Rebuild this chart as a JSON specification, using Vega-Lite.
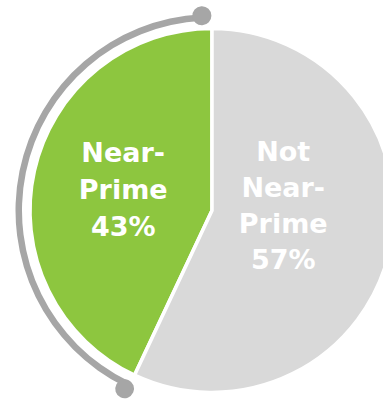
{
  "$schema": "https://vega.github.io/schema/vega-lite/v6.json",
  "autosize": {"type": "none"},
  "padding": {"left": 41, "top": 18, "right": 0, "bottom": 0},
  "width": 342,
  "height": 385,
  "background": "white",
  "config": {"view": {"stroke": null}},
  "datasets": {
    "shares": [
      {"category": "Near-Prime", "value": 43, "label": "Near-\nPrime\n43%"},
      {"category": "Not Near-Prime", "value": 57, "label": "Not\nNear-\nPrime\n57%"}
    ],
    "bracket": [
      {"category": "Near-Prime", "from": 57, "to": 100}
    ]
  },
  "layer": [
    {
      "data": {"name": "shares"},
      "mark": {"type": "arc", "outerRadius": 182, "stroke": "white", "strokeWidth": 3.5},
      "encoding": {
        "theta": {"field": "value", "type": "quantitative", "stack": true, "scale": {"domain": [0, 100]}},
        "order": {"field": "category", "sort": "descending"},
        "color": {"field": "category", "type": "nominal", "legend": null,
          "scale": {"domain": ["Near-Prime", "Not Near-Prime"], "range": ["#8DC63F", "#D9D9D9"]}}
      }
    },
    {
      "data": {"name": "bracket"},
      "mark": {"type": "arc", "innerRadius": 190, "outerRadius": 196.5, "color": "#A6A6A6", "thetaOffset": 0.016, "theta2Offset": -0.052},
      "encoding": {
        "theta": {"field": "from", "type": "quantitative", "scale": {"domain": [0, 100]}},
        "theta2": {"field": "to"}
      }
    },
    {
      "data": {"name": "bracket"},
      "mark": {"type": "arc", "innerRadius": 189, "outerRadius": 208, "cornerRadius": 9.5, "color": "#A6A6A6", "thetaOffset": -0.031, "theta2Offset": 0.063},
      "encoding": {
        "theta": {"field": "from", "type": "quantitative", "scale": {"domain": [0, 100]}},
        "theta2": {"field": "from"}
      }
    },
    {
      "data": {"name": "bracket"},
      "mark": {"type": "arc", "innerRadius": 185.5, "outerRadius": 204.5, "cornerRadius": 9.5, "color": "#A6A6A6", "thetaOffset": -0.101, "theta2Offset": -0.003},
      "encoding": {
        "theta": {"field": "to", "type": "quantitative", "scale": {"domain": [0, 100]}},
        "theta2": {"field": "to"}
      }
    },
    {
      "data": {"name": "shares"},
      "mark": {"type": "text", "radius": 91, "dy": -37, "font": "DejaVu Sans", "fontWeight": "bold", "fontSize": 27, "lineHeight": 37, "lineBreak": "\n", "align": "center", "baseline": "middle", "color": "white"},
      "encoding": {
        "theta": {"field": "value", "type": "quantitative", "stack": true, "scale": {"domain": [0, 100]}},
        "order": {"field": "category", "sort": "descending"},
        "text": {"condition": {"test": "datum.category === 'Near-Prime'", "field": "label"}, "value": ""}
      }
    },
    {
      "data": {"name": "shares"},
      "mark": {"type": "text", "radius": 73, "dy": -73, "font": "DejaVu Sans", "fontWeight": "bold", "fontSize": 27, "lineHeight": 36, "lineBreak": "\n", "align": "center", "baseline": "middle", "color": "white"},
      "encoding": {
        "theta": {"field": "value", "type": "quantitative", "stack": true, "scale": {"domain": [0, 100]}},
        "order": {"field": "category", "sort": "descending"},
        "text": {"condition": {"test": "datum.category === 'Not Near-Prime'", "field": "label"}, "value": ""}
      }
    }
  ]
}
